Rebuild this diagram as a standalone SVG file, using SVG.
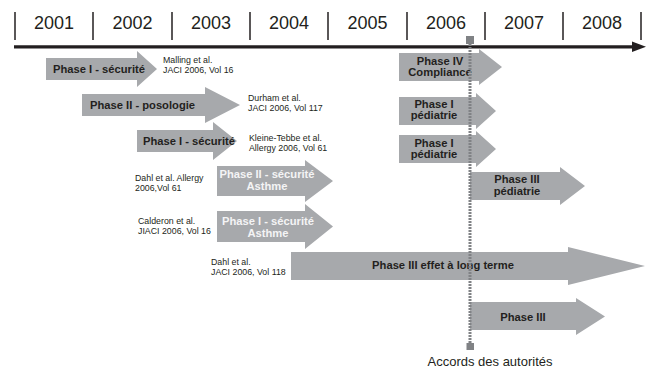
<svg xmlns="http://www.w3.org/2000/svg" width="646" height="371" viewBox="0 0 646 371">
<style>
.yr{font-family:"Liberation Sans",Arial,sans-serif;font-size:18px;fill:#231f20;text-anchor:middle}
.sep{stroke:#231f20;stroke-width:1.5}
.arr{fill:#a7a9ac}
.lb{font-family:"Liberation Sans",Arial,sans-serif;font-size:11.2px;font-weight:bold;fill:#231f20}
.lw{font-family:"Liberation Sans",Arial,sans-serif;font-size:11.2px;font-weight:bold;fill:#f4f4f5;text-anchor:middle}
.c{text-anchor:middle}
.ref{font-family:"Liberation Sans",Arial,sans-serif;font-size:8.8px;fill:#231f20}
.note{font-family:"Liberation Sans",Arial,sans-serif;font-size:13px;fill:#231f20;text-anchor:middle}
</style>
<rect width="646" height="371" fill="#fff"/>
<g id="timeline">
<g id="separators">
<line class="sep" x1="15" y1="12" x2="15" y2="40"/>
<line class="sep" x1="93" y1="12" x2="93" y2="40"/>
<line class="sep" x1="172" y1="12" x2="172" y2="40"/>
<line class="sep" x1="250" y1="12" x2="250" y2="40"/>
<line class="sep" x1="328" y1="12" x2="328" y2="40"/>
<line class="sep" x1="407" y1="12" x2="407" y2="40"/>
<line class="sep" x1="485" y1="12" x2="485" y2="40"/>
<line class="sep" x1="563" y1="12" x2="563" y2="40"/>
<line class="sep" x1="641" y1="12" x2="641" y2="40"/>
</g>
<g id="years">
<text class="yr" x="54" y="29">2001</text>
<text class="yr" x="132.5" y="29">2002</text>
<text class="yr" x="211" y="29">2003</text>
<text class="yr" x="289" y="29">2004</text>
<text class="yr" x="367.5" y="29">2005</text>
<text class="yr" x="446" y="29">2006</text>
<text class="yr" x="524" y="29">2007</text>
<text class="yr" x="602" y="29">2008</text>
</g>
<line x1="14" y1="46.8" x2="634" y2="46.8" stroke="#231f20" stroke-width="3.2"/>
<polygon points="632,41.5 646,46.8 632,52" fill="#231f20"/>
</g>
<g id="n1">
<path class="arr" d="M46 58H137V51L157 69L137 87V80H46Z"/>
<text class="lb" x="53" y="73">Phase I - sécurité</text>
<text class="ref" x="163" y="63">Malling et al.</text>
<text class="ref" x="163" y="73">JACI 2006, Vol 16</text>
</g>
<g id="n2">
<path class="arr" d="M82 94H205V87L240 105L205 123V116H82Z"/>
<text class="lb" x="90" y="109">Phase II - posologie</text>
<text class="ref" x="248" y="101">Durham et al.</text>
<text class="ref" x="248" y="111">JACI 2006, Vol 117</text>
</g>
<g id="n3">
<path class="arr" d="M137 130H213V122L237 141L213 160V152H137Z"/>
<text class="lb" x="143" y="145">Phase I - sécurité</text>
<text class="ref" x="249" y="141">Kleine-Tebbe et al.</text>
<text class="ref" x="249" y="151">Allergy 2006, Vol 61</text>
</g>
<g id="n4">
<path class="arr" d="M217 166H305V160L333 181L305 202V196H217Z"/>
<text class="lw" x="267" y="178">Phase II - sécurité</text>
<text class="lw" x="267" y="190">Asthme</text>
<text class="ref" x="135" y="181">Dahl et al. Allergy</text>
<text class="ref" x="135" y="191">2006,Vol 61</text>
</g>
<g id="n5">
<path class="arr" d="M217 211H305V204L333 226.5L305 249V242H217Z"/>
<text class="lw" x="268" y="225">Phase I - sécurité</text>
<text class="lw" x="268" y="237">Asthme</text>
<text class="ref" x="138" y="224">Calderon et al.</text>
<text class="ref" x="138" y="234">JIACI 2006, Vol 16</text>
</g>
<g id="n6">
<path class="arr" d="M291 252H568V247L645 266L568 285V280H291Z"/>
<text class="lb c" x="443" y="269">Phase III effet à long terme</text>
<text class="ref" x="211" y="265">Dahl et al.</text>
<text class="ref" x="211" y="275">JACI 2006, Vol 118</text>
</g>
<g id="n7">
<path class="arr" d="M470 302H576V298L605 316.5L576 335V330H470Z"/>
<text class="lb c" x="523" y="321">Phase III</text>
</g>
<g id="n8">
<path class="arr" d="M470 172H560V167L585 186L560 205V200H470Z"/>
<text class="lb c" x="517" y="183">Phase III</text>
<text class="lb c" x="517" y="195">pédiatrie</text>
</g>
<g id="n9">
<path class="arr" d="M399 53H479V49L502 67L479 85V81H399Z"/>
<text class="lb c" x="440" y="65">Phase IV</text>
<text class="lb c" x="440" y="76">Compliance</text>
</g>
<g id="n10">
<path class="arr" d="M399 97H476V93L496 111L476 129V125H399Z"/>
<text class="lb c" x="434" y="108">Phase I</text>
<text class="lb c" x="434" y="119">pédiatrie</text>
</g>
<g id="n11">
<path class="arr" d="M399 135H476V131L496 149L476 167V163H399Z"/>
<text class="lb c" x="434" y="147">Phase I</text>
<text class="lb c" x="434" y="158">pédiatrie</text>
</g>
<g id="connectors">
<line x1="470" y1="44" x2="470" y2="343" stroke="#808285" stroke-width="3" stroke-dasharray="2 1"/>
<rect x="466" y="36" width="8" height="8" fill="#808285"/>
<rect x="466.5" y="343" width="7.5" height="7" fill="#808285"/>
</g>
<g id="milestone">
<text class="note" x="490" y="366">Accords des autorités</text>
</g>
</svg>
